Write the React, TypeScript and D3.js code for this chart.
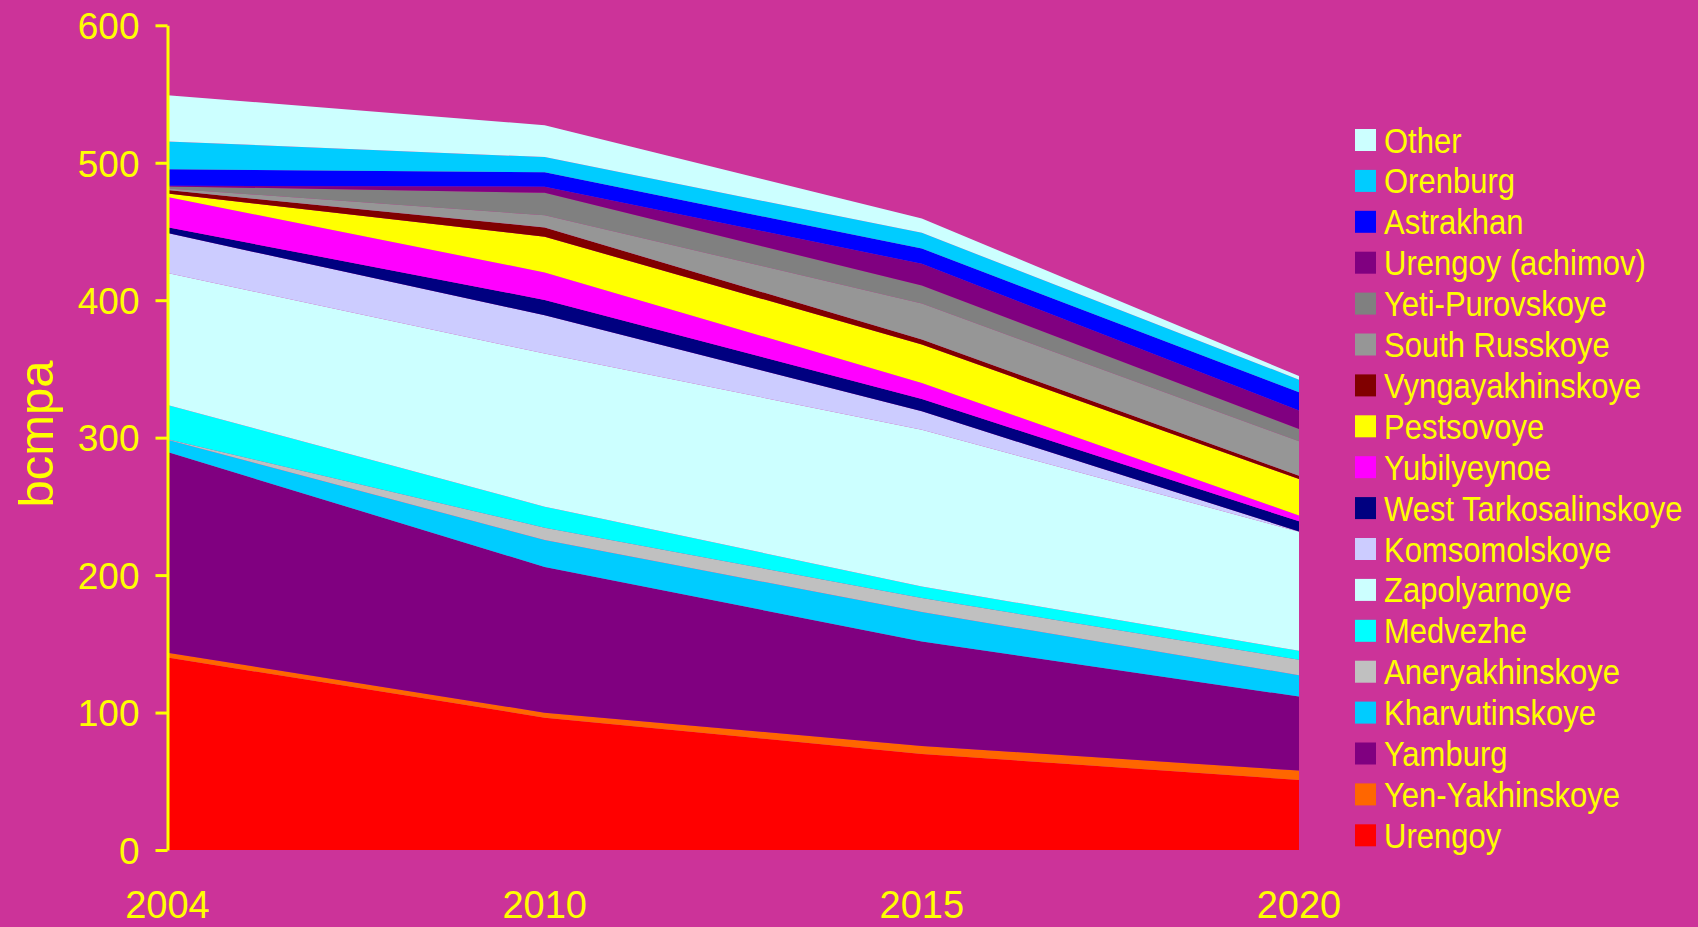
import React, { useEffect, useRef } from "react";
import * as d3 from "d3";

// gas production by field, bcmpa
const years = ["2004", "2010", "2015", "2020"];

// stack order, bottom to top
const fields = [
  "Urengoy",
  "Yen-Yakhinskoye",
  "Yamburg",
  "Kharvutinskoye",
  "Aneryakhinskoye",
  "Medvezhe",
  "Zapolyarnoye",
  "Komsomolskoye",
  "West Tarkosalinskoye",
  "Yubilyeynoe",
  "Pestsovoye",
  "Vyngayakhinskoye",
  "South Russkoye",
  "Yeti-Purovskoye",
  "Urengoy (achimov)",
  "Astrakhan",
  "Orenburg",
  "Other",
];

const colors = [
  "#FF0000",
  "#FF6600",
  "#800080",
  "#00CCFF",
  "#C0C0C0",
  "#00FFFF",
  "#CCFFFF",
  "#CCCCFF",
  "#000080",
  "#FF00FF",
  "#FFFF00",
  "#800000",
  "#969696",
  "#808080",
  "#800080",
  "#0000FF",
  "#00CCFF",
  "#CCFFFF",
];

const urengoy = [140, 96.3, 69.9, 51];
const yenYakhinskoye = [3.5, 3.6, 5.8, 6.8];
const yamburg = [146, 106, 76, 53.8];
const kharvutinskoye = [9, 19.7, 21.4, 15.6];
const aneryakhinskoye = [0.3, 8.9, 10.2, 11.2];
const medvezhe = [25, 15.3, 8.4, 6.5];
const zapolyarnoye = [96, 111.4, 114.1, 86.6];
const komsomolskoye = [29, 27.9, 13.4, 0.3];
const westTarkosalinskoye = [4.3, 11.1, 8.9, 7.3];
const yubilyeynoe = [22, 20, 11.7, 4.3];
const pestsovoye = [2.5, 26, 27.9, 26.5];
const vyngayakhinskoye = [2.5, 6.7, 3.7, 2.4];
const southRusskoye = [1.2, 8.9, 26.2, 25];
const yetiPurovskoye = [1.5, 16.3, 13.1, 9];
const urengoyAchimov = [0.5, 4.5, 15.8, 13.4];
const astrakhan = [12, 10.4, 11.1, 13.3];
const orenburg = [20.2, 11.1, 11.4, 9.2];
const other = [33.7, 23.2, 10.5, 2.6];

const series = [
  urengoy,
  yenYakhinskoye,
  yamburg,
  kharvutinskoye,
  aneryakhinskoye,
  medvezhe,
  zapolyarnoye,
  komsomolskoye,
  westTarkosalinskoye,
  yubilyeynoe,
  pestsovoye,
  vyngayakhinskoye,
  southRusskoye,
  yetiPurovskoye,
  urengoyAchimov,
  astrakhan,
  orenburg,
  other,
];

const yTicks = [0, 100, 200, 300, 400, 500, 600];

const width = 1698;
const height = 927;
const bg = "#CC3399";
const ink = "#FFFF00";
const font = "'Liberation Sans', Arial, sans-serif";

export default function App() {
  const ref = useRef<SVGSVGElement>(null);

  useEffect(() => {
    const svg = d3.select(ref.current);
    svg.selectAll("*").remove();

    const rows = years.map((yr, i) => {
      const row: any = { year: yr };
      fields.forEach((f, j) => (row[f] = series[j][i]));
      return row;
    });

    const x = d3.scalePoint().domain(years).range([167.5, 1299]);
    const y = d3.scaleLinear().domain([0, 600]).range([850, 25.3]);

    const stacked = d3.stack().keys(fields)(rows);

    const area = d3
      .area<any>()
      .x((d) => x(d.data.year)!)
      .y0((d) => y(d[0]))
      .y1((d) => y(d[1]));

    svg.append("rect").attr("width", width).attr("height", height).attr("fill", bg);

    svg
      .append("g")
      .selectAll("path")
      .data(stacked)
      .join("path")
      .attr("fill", (_d, i) => colors[i])
      .attr("d", area);

    // y axis
    const yAxis = svg
      .append("g")
      .attr("transform", "translate(167.5,0)")
      .call(d3.axisLeft(y).tickValues(yTicks).tickSize(12).tickSizeOuter(0).tickPadding(16));
    yAxis.select(".domain").attr("stroke", ink).attr("stroke-width", 3);
    yAxis.selectAll(".tick line").attr("stroke", ink).attr("stroke-width", 3);
    yAxis
      .selectAll(".tick text")
      .attr("fill", ink)
      .attr("font-family", font)
      .attr("font-size", 37)
      .attr("dy", "0.36em");

    // x labels
    svg
      .append("g")
      .selectAll("text")
      .data(years)
      .join("text")
      .attr("x", (d) => x(d)!)
      .attr("y", 918)
      .attr("text-anchor", "middle")
      .attr("fill", ink)
      .attr("font-family", font)
      .attr("font-size", 38)
      .text((d) => d);

    // axis title
    svg
      .append("text")
      .attr("transform", "translate(53,434) rotate(-90)")
      .attr("text-anchor", "middle")
      .attr("fill", ink)
      .attr("font-family", font)
      .attr("font-size", 49)
      .text("bcmpa");

    // legend, top item is the top layer
    const legendItems = fields.map((f, i) => ({ name: f, color: colors[i] })).reverse();
    const lg = svg
      .append("g")
      .selectAll("g")
      .data(legendItems)
      .join("g")
      .attr("transform", (_d, i) => `translate(0,${140 + i * 40.9})`);
    lg.append("rect")
      .attr("x", 1355)
      .attr("y", -11)
      .attr("width", 21)
      .attr("height", 22)
      .attr("fill", (d) => d.color);
    lg.append("text")
      .attr("transform", "translate(1384,12.5) scale(1,1.12)")
      .attr("fill", ink)
      .attr("font-family", font)
      .attr("font-size", 31)
      .text((d) => d.name);
  }, []);

  return (
    <svg
      ref={ref}
      width={width}
      height={height}
      style={{ position: "absolute", left: 0, top: 0, display: "block" }}
    />
  );
}
